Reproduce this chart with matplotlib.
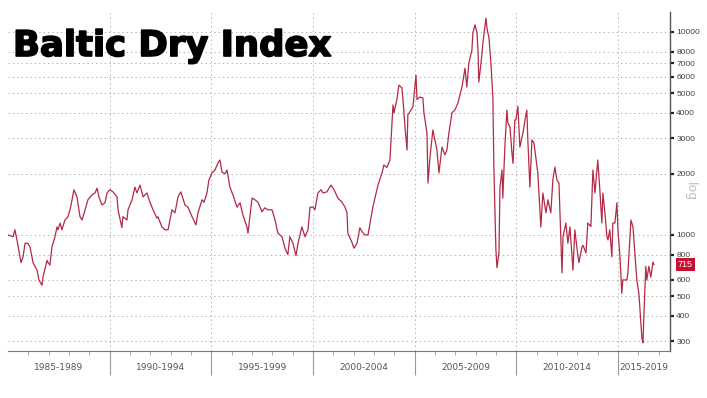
import numpy as np
import matplotlib
matplotlib.use("Agg")
import matplotlib.pyplot as plt
import matplotlib.transforms as mtransforms
import matplotlib.patheffects as pe

# ---- data ----
years_since_1985 = [
    0.00, 0.25, 0.34, 0.44, 0.64, 0.74, 0.84, 0.98, 1.08, 1.18, 1.23, 1.43, 1.52, 1.67, 1.72,
    1.92, 1.97, 2.06, 2.16, 2.31, 2.41, 2.46, 2.56, 2.65, 2.80, 2.95, 3.05, 3.15, 3.24, 3.39,
    3.54, 3.64, 3.79, 3.93, 4.13, 4.28, 4.38, 4.47, 4.62, 4.77, 4.87, 5.01, 5.16, 5.36, 5.41,
    5.60, 5.65, 5.85, 5.90, 6.10, 6.24, 6.34, 6.49, 6.64, 6.83, 6.98, 7.13, 7.32, 7.37, 7.57,
    7.72, 7.87, 8.06, 8.21, 8.36, 8.50, 8.70, 8.85, 9.05, 9.24, 9.34, 9.54, 9.64, 9.78, 9.88,
    10.03, 10.18, 10.32, 10.42, 10.52, 10.67, 10.77, 10.91, 11.06, 11.26, 11.41, 11.55, 11.75, 11.80, 12.00,
    12.14, 12.29, 12.49, 12.63, 12.78, 12.98, 13.13, 13.27, 13.47, 13.62, 13.76, 13.86, 14.01, 14.16, 14.26,
    14.45, 14.60, 14.75, 14.85, 14.99, 15.09, 15.24, 15.39, 15.49, 15.68, 15.88, 16.03, 16.22, 16.42, 16.57,
    16.67, 16.71, 16.91, 17.01, 17.16, 17.30, 17.40, 17.55, 17.70, 17.89, 17.94, 18.14, 18.19, 18.39, 18.48,
    18.63, 18.78, 18.93, 18.98, 19.12, 19.22, 19.37, 19.42, 19.52, 19.62, 19.66, 19.81, 19.91, 20.06, 20.11,
    20.25, 20.40, 20.45, 20.60, 20.65, 20.75, 20.89, 20.99, 21.09, 21.19, 21.34, 21.48, 21.58, 21.68, 21.83,
    21.97, 22.12, 22.32, 22.47, 22.56, 22.66, 22.81, 22.86, 22.96, 23.06, 23.11, 23.15, 23.30, 23.35, 23.50,
    23.55, 23.65, 23.74, 23.84, 23.89, 23.94, 23.99, 24.04, 24.14, 24.19, 24.29, 24.33, 24.43, 24.53, 24.58,
    24.68, 24.78, 24.83, 24.92, 24.97, 25.07, 25.17, 25.32, 25.42, 25.51, 25.56, 25.66, 25.76, 25.86, 26.01,
    26.05, 26.20, 26.30, 26.45, 26.55, 26.69, 26.79, 26.89, 26.99, 27.09, 27.24, 27.29, 27.43, 27.53, 27.63,
    27.78, 27.87, 27.97, 28.07, 28.22, 28.27, 28.42, 28.51, 28.66, 28.76, 28.86, 29.00, 29.10, 29.20, 29.25,
    29.35, 29.45, 29.50, 29.59, 29.69, 29.74, 29.84, 29.94, 29.99, 30.09, 30.18, 30.23, 30.43, 30.48, 30.63,
    30.73, 30.82, 30.92, 31.02, 31.17, 31.22, 31.27, 31.36, 31.41, 31.51, 31.61, 31.71, 31.76,
]
bdi_values = [
    1000, 980, 1060, 945, 730, 780, 910, 910, 870, 780, 730, 670, 600, 565, 620,
    750, 730, 710, 870, 980, 1095, 1060, 1145, 1060, 1185, 1230, 1330, 1490, 1670, 1540,
    1230, 1185, 1330, 1490, 1575, 1610, 1700, 1540, 1405, 1440, 1610, 1670, 1630, 1540, 1330,
    1085, 1230, 1185, 1330, 1490, 1720, 1610, 1760, 1540, 1610, 1450, 1330, 1210, 1230, 1095,
    1060, 1060, 1330, 1285, 1540, 1630, 1405, 1370, 1230, 1120, 1285, 1490, 1450, 1610, 1865,
    2020, 2090, 2260, 2340, 2040, 2000, 2090, 1720, 1575, 1370, 1440, 1254, 1095, 1020, 1520,
    1490, 1450, 1300, 1360, 1330, 1330, 1185, 1020, 980, 860, 800, 980, 910, 790, 910,
    1095, 980, 1060, 1370, 1370, 1330, 1610, 1670, 1610, 1630, 1760, 1670, 1520, 1450, 1370,
    1285, 1020, 920, 860, 910, 1085, 1040, 1000, 1000, 1285, 1370, 1670, 1760, 2020, 2210,
    2150, 2340, 4370, 4000, 4650, 5470, 5300, 4650, 3400, 2620, 3900, 4120, 4270, 6130, 4650,
    4780, 4730, 4000, 3180, 1800, 2420, 3290, 2940, 2620, 2020, 2710, 2480, 2620, 3180, 4000,
    4120, 4460, 5350, 6630, 5350, 7040, 8130, 9900, 10850, 9900, 8130, 5660, 7700, 8820, 11700,
    10450, 9330, 7130, 4780, 2160, 1370, 845, 690, 815, 1725, 2090, 1520, 2710, 4120, 3560,
    3400, 2530, 2250, 3680, 3680, 4300, 2710, 3180, 3680, 4120, 2940, 1720, 2940, 2840, 2160,
    2020, 1095, 1610, 1285, 1490, 1285, 1865, 2160, 1865, 1800, 650, 980, 1145, 910, 1095,
    670, 1060, 870, 730, 870, 890, 815, 1145, 1100, 2090, 1610, 2340, 1670, 1145, 1610,
    1285, 980, 945, 1060, 780, 1145, 1145, 1440, 1060, 780, 515, 600, 600, 650, 1185,
    1095, 815, 600, 515, 310, 294, 410, 700, 600, 700, 620, 735, 715,
]
last_value = 715
y_tick_values = [300, 400, 500, 600, 800, 1000, 2000, 3000, 4000, 5000, 6000, 7000, 8000, 10000]
y_tick_labels = [str(v) for v in y_tick_values]
period_starts = [1985, 1990, 1995, 2000, 2005, 2010, 2015]
period_labels = ["1985-1989", "1990-1994", "1995-1999", "2000-2004",
                 "2005-2009", "2010-2014", "2015-2019"]
title_text = "Baltic Dry Index"

# ---- figure ----
W, H = 707, 398
fig = plt.figure(figsize=(W / 100, H / 100), dpi=100)
left, right, top, bottom = 8, 670, 12, 351
ax = fig.add_axes([left / W, 1 - bottom / H, (right - left) / W, (bottom - top) / H])

x = 1985 + np.array(years_since_1985)
y = np.array(bdi_values)
ax.plot(x, y, color="#b32a45", lw=0.9)

x_min, x_max = 1985.0, 2017.55
ax.set_xlim(x_min, x_max)
ax.set_yscale("log")
ax.set_ylim(268, 12540)

# y axis on the right
ax.yaxis.tick_right()
ax.set_yticks(y_tick_values)
ax.set_yticklabels(y_tick_labels)
ax.yaxis.set_minor_locator(matplotlib.ticker.NullLocator())
ax.tick_params(axis="y", which="major", direction="out", length=3, width=1.6,
               color="#222222", labelsize=6, labelcolor="#444444", pad=1.5)
for lbl in ax.get_yticklabels():
    lbl.set_fontfamily("Liberation Sans")

# spines
for s in ["top", "left"]:
    ax.spines[s].set_visible(False)
ax.spines["right"].set_color("#555555")
ax.spines["right"].set_linewidth(1.0)
ax.spines["bottom"].set_color("#777777")
ax.spines["bottom"].set_linewidth(0.8)

# x axis: period separators (long ticks) and yearly minor ticks
ax.set_xticks(period_starts[1:])
ax.set_xticklabels([])
ax.set_xticks(np.arange(1986, 2018), minor=True)
ax.tick_params(axis="x", which="major", direction="out", length=17, width=0.8, color="#999999")
ax.tick_params(axis="x", which="minor", direction="out", length=3, width=0.6, color="#999999")

# grid
for v in y_tick_values:
    ax.axhline(v, color="#b5b5b5", lw=0.7, ls=(0, (1.5, 3)), zorder=0)
for p in period_starts[1:]:
    ax.axvline(p, color="#b5b5b5", lw=0.7, ls=(0, (1.5, 3)), zorder=0)

# period labels
trans = mtransforms.blended_transform_factory(ax.transData, ax.transAxes)
for i, (p, lab) in enumerate(zip(period_starts, period_labels)):
    end = period_starts[i + 1] if i + 1 < len(period_starts) else x_max
    ax.text((p + end) / 2, -0.05, lab, transform=trans, ha="center", va="center",
            fontsize=6.5, color="#555555", family="DejaVu Sans")

# title
ax.text(13 / W, 1 - 56 / H, title_text, transform=fig.transFigure, ha="left", va="baseline",
        fontsize=25.5, fontweight="bold", family="DejaVu Sans", color="black",
        path_effects=[pe.withStroke(linewidth=1.2, foreground="black")])

# "log" marker
fig.text(690 / W, 1 - 192 / H, "log", rotation=270, ha="center", va="center",
         fontsize=9, color="#c0c0c0", family="DejaVu Sans")

# last value label
trans_y = mtransforms.blended_transform_factory(ax.transAxes, ax.transData)
ax.text(1.012, last_value, str(last_value), transform=trans_y, ha="left", va="center",
        fontsize=6.5, color="white", family="Liberation Sans", clip_on=False,
        bbox=dict(boxstyle="square,pad=0.25", fc="#c8102e", ec="none"))

fig.savefig("out.png", dpi=100)
